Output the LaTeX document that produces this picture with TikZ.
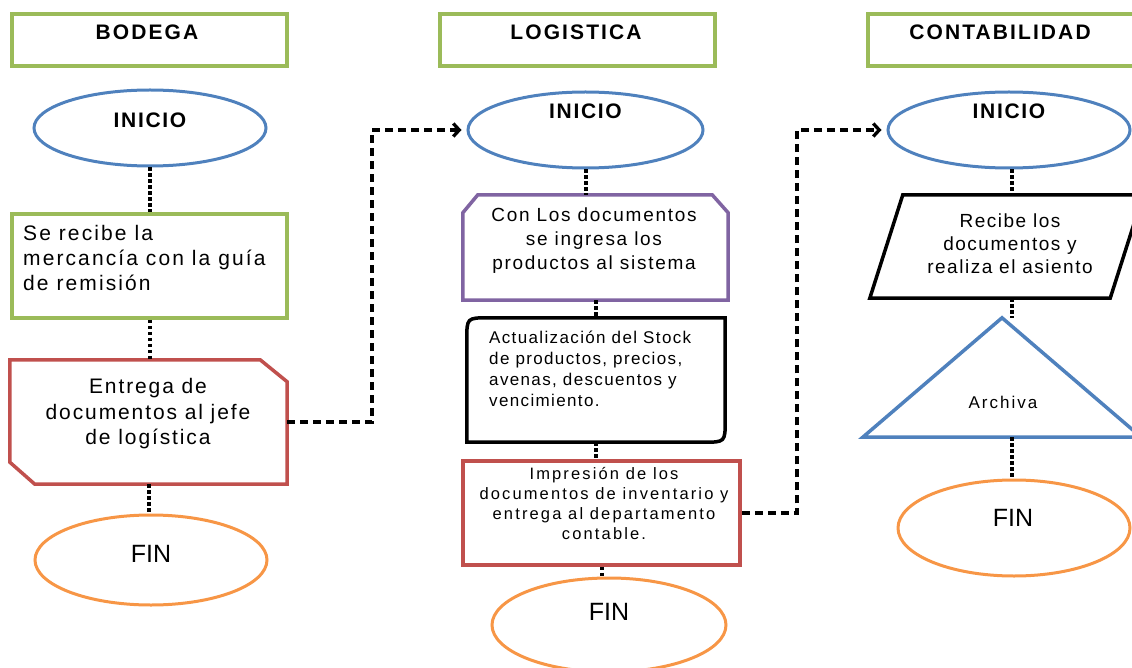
\documentclass[tikz,border=0pt]{standalone}
\usepackage{fontspec}
\setmainfont{Liberation Sans}
\usetikzlibrary{shapes.geometric,arrows.meta,calc}

\definecolor{hgreen}{HTML}{9BBB59}
\definecolor{iblue}{HTML}{4F81BD}
\definecolor{forange}{HTML}{F79646}
\definecolor{pred}{HTML}{C0504D}
\definecolor{ppurple}{HTML}{8064A2}

\tikzset{
  hdr/.style={rectangle, draw=hgreen, line width=3.5pt, minimum width=275pt,
    minimum height=52pt, inner sep=0pt},
  hdrtext/.style={anchor=base, inner sep=0pt,
    font=\bfseries\fontsize{21}{25}\selectfont\addfontfeatures{LetterSpace=10}},
  startnode/.style={ellipse, draw=iblue, line width=3pt, inner sep=0pt,
    minimum height=76pt},
  endnode/.style={ellipse, draw=forange, line width=3pt, inner sep=0pt},
  starttext/.style={anchor=base, inner sep=0pt,
    font=\bfseries\fontsize{21}{25}\selectfont\addfontfeatures{LetterSpace=8}},
  endtext/.style={anchor=base, inner sep=0pt, font=\fontsize{25}{30}\selectfont},
  frame/.style={rectangle, inner sep=0pt},
  outline/.style={line width=3.5pt, line join=miter},
  link/.style={line width=4pt, dash pattern=on 3.5pt off 2.5pt},
  flow/.style={line width=3.3pt, dash pattern=on 8pt off 5pt,
    -{Straight Barb[length=6pt,width=13pt]}, shorten >=5pt},
}

\begin{document}
\begin{tikzpicture}[x=1pt,y=-1pt]
\useasboundingbox (0,0) rectangle (1132,668);

% ---- column headers ----
\node[hdr] (hb) at (149.5,40) {};
\node[hdr] (hl) at (577.5,40) {};
\node[hdr] (hc) at (1005.5,40) {};
\node[hdrtext] (hbt) at (147,40) {BODEGA};
\node[hdrtext] (hlt) at (576,40) {LOGISTICA};
\node[hdrtext] (hct) at (1000,40) {CONTABILIDAD};

% ---- BODEGA ----
\node[startnode, minimum width=232pt] (i1) at (150,128) {};
\node[starttext] (i1t) at (150,128) {INICIO};

\node[frame, draw=hgreen, line width=3.5pt, minimum width=275pt, minimum height=104pt] (b1) at (149.5,266) {};
\node[anchor=west, inner sep=0pt, align=left,
  font=\fontsize{21}{25}\selectfont\addfontfeatures{LetterSpace=10}] (b1t) at (23,258)
  {Se recibe la\\mercancía con la guía\\de remisión};

\node[frame, minimum width=277pt, minimum height=124pt] (b2) at (148.5,422) {};
\draw[outline, draw=pred] (b2.north west) -- ($(b2.north east)+(-27,0)$)
  -- ($(b2.north east)+(0,22)$) -- (b2.south east) -- ($(b2.south west)+(25,0)$)
  -- ($(b2.south west)+(0,-22)$) -- cycle;
\node[inner sep=0pt, align=center,
  font=\fontsize{21}{25.5}\selectfont\addfontfeatures{LetterSpace=9}] (b2t) at (148,414)
  {Entrega de\\documentos al jefe\\de logística};

\node[endnode, minimum width=232pt, minimum height=90pt] (f1) at (151,560) {};
\node[endtext] (f1t) at (151,562) {FIN};

\draw[link] (i1.south) -- (i1.south |- b1.north);
\draw[link] (b1.south) -- (b1.south |- b2.north);
\draw[link] (b2.south) -- (b2.south |- f1.north);

% ---- LOGISTICA ----
\node[startnode, minimum width=235pt] (i2) at (585.5,130) {};
\node[starttext] (i2t) at (585.5,119) {INICIO};

\node[frame, minimum width=265pt, minimum height=105pt] (l1) at (595.5,247.5) {};
\draw[outline, draw=ppurple] ($(l1.north west)+(0,18)$) -- ($(l1.north west)+(15,0)$)
  -- ($(l1.north east)+(-16,0)$) -- ($(l1.north east)+(0,18)$)
  -- (l1.south east) -- (l1.south west) -- cycle;
\node[inner sep=0pt, align=center,
  font=\fontsize{19}{24}\selectfont\addfontfeatures{LetterSpace=9}] (l1t) at (594,241)
  {Con Los documentos\\se ingresa los\\productos al sistema};

\node[frame, minimum width=258pt, minimum height=124pt] (l2) at (596,380) {};
\draw[outline] (l2.south west) -- ($(l2.north west)+(0,22)$)
  .. controls (l2.north west) .. ($(l2.north west)+(22,0)$)
  -- (l2.north east) -- ($(l2.south east)+(0,-22)$)
  .. controls (l2.south east) .. ($(l2.south east)+(-22,0)$) -- cycle;
\node[anchor=west, inner sep=0pt, align=left,
  font=\fontsize{17}{21}\selectfont\addfontfeatures{LetterSpace=8}] (l2t) at (489,369)
  {Actualización del Stock\\de productos, precios,\\avenas, descuentos y\\vencimiento.};

\node[frame, draw=pred, line width=3.5pt, minimum width=277pt, minimum height=104pt] (l3) at (601.5,513) {};
\node[inner sep=0pt, align=center,
  font=\fontsize{16.5}{20}\selectfont\addfontfeatures{LetterSpace=13}] (l3t) at (604,504)
  {Impresión de los\\documentos de inventario y\\entrega al departamento\\contable.};

\node[endnode, minimum width=234pt, minimum height=94pt] (f2) at (609,625) {};
\node[endtext] (f2t) at (609,620) {FIN};

\draw[link] (i2.south) -- (i2.south |- l1.north);
\draw[link] (l1.south) -- (l1.south |- l2.north);
\draw[link] (l2.south) -- (l2.south |- l3.north);
\draw[link] (l3.south) -- (l3.south |- f2.north);

% ---- CONTABILIDAD ----
\node[startnode, minimum width=242pt] (i3) at (1009,130) {};
\node[starttext] (i3t) at (1009,119) {INICIO};

\node[frame, minimum width=273pt, minimum height=103pt] (c1) at (1006.5,246.5) {};
\draw[outline] ($(c1.north west)+(33,0)$) -- (c1.north east)
  -- ($(c1.south east)+(-33,0)$) -- (c1.south west) -- cycle;
\node[inner sep=0pt, align=center,
  font=\fontsize{19}{23}\selectfont\addfontfeatures{LetterSpace=8}] (c1t) at (1010,244)
  {Recibe los\\documentos y\\realiza el asiento};

\node[frame, minimum width=278pt, minimum height=119pt] (tri) at (1002,377.5) {};
\draw[outline, draw=iblue] (tri.north) -- (tri.south east) -- (tri.south west) -- cycle;
\node[inner sep=0pt, font=\fontsize{17}{20}\selectfont\addfontfeatures{LetterSpace=12}] (trit) at (1003,402) {Archiva};

\node[endnode, minimum width=232pt, minimum height=96pt] (f3) at (1014,528) {};
\node[endtext] (f3t) at (1013,526) {FIN};

\coordinate (cx) at (1012,0);
\draw[link] (cx |- i3.south) -- (cx |- c1.north);
\draw[link] (cx |- c1.south) -- (cx |- tri.north);
\draw[link] (cx |- tri.south) -- (cx |- f3.north);

% ---- hand-offs between departments ----
\coordinate (k1) at (372,0);
\coordinate (k2) at (797,0);
\draw[flow] (b2.east) -| (k1 |- i2.west) -- (i2.west);
\draw[flow] (l3.east) -| (k2 |- i3.west) -- (i3.west);
\end{tikzpicture}
\end{document}
